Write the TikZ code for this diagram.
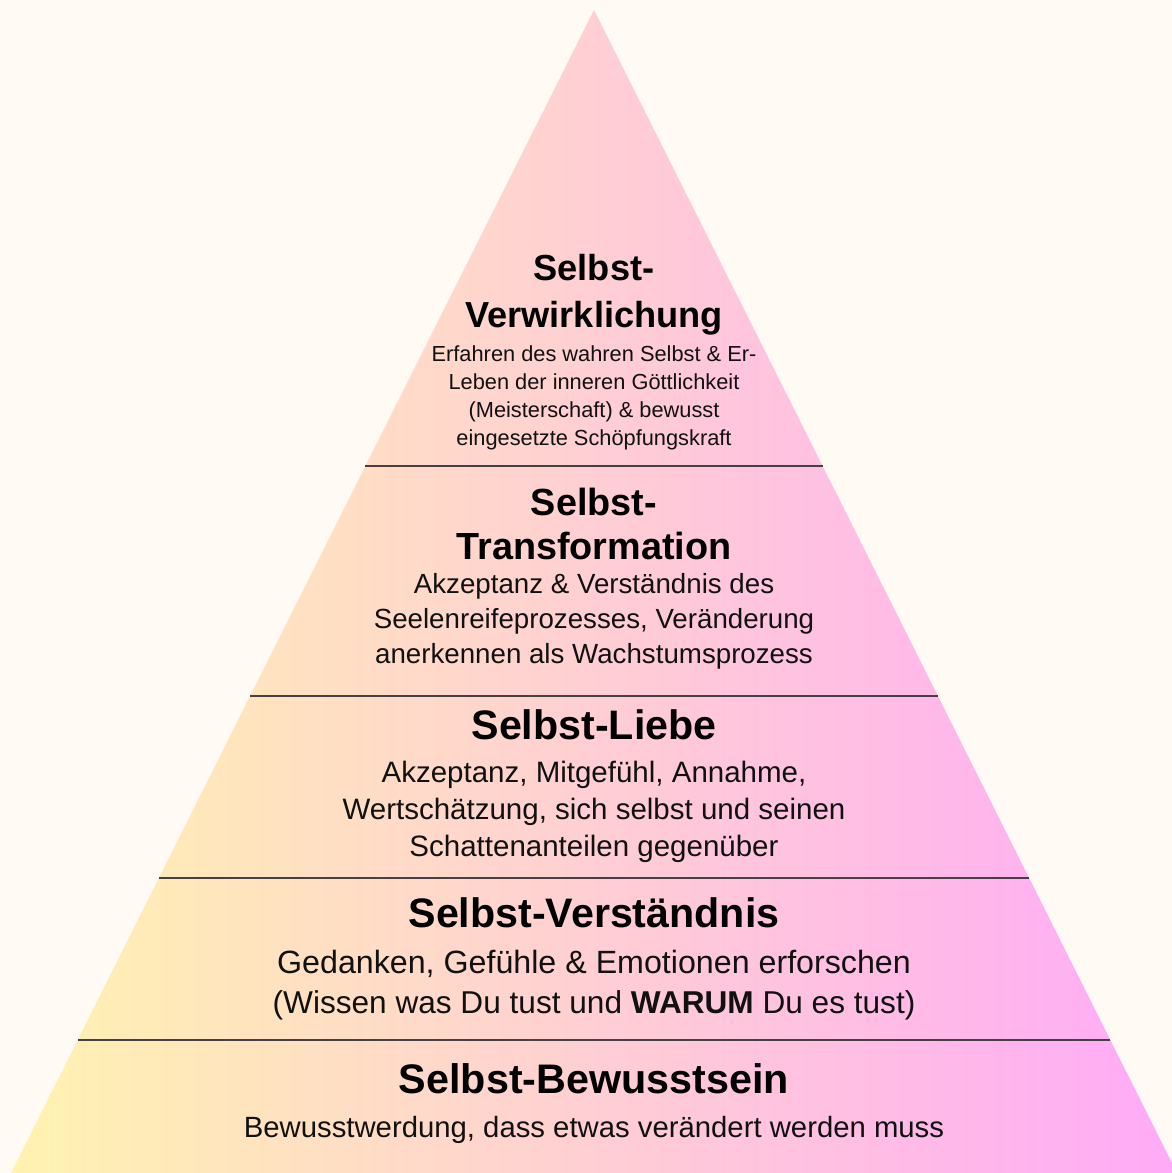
\documentclass[tikz,border=0pt]{standalone}
\usepackage{fontspec}
\setmainfont{Liberation Sans}
\usetikzlibrary{calc}
\definecolor{bgcol}{HTML}{FFFAF4}
\definecolor{leftcol}{HTML}{FFF3B0}
\definecolor{rightcol}{HTML}{FFAAF7}
\definecolor{linegray}{HTML}{454045}
\definecolor{txt}{HTML}{111111}
\tikzset{
  ttl/.style={anchor=base, inner sep=0pt, text=black, font=\bfseries\fontsize{#1}{#1}\selectfont},
  bdy/.style={anchor=base, inner sep=0pt, text=txt, font=\fontsize{#1}{#1}\selectfont},
  sepline/.style={draw=linegray, line width=1.2pt}
}
\begin{document}
\begin{tikzpicture}[x=1pt,y=-1pt]
\useasboundingbox (0,0) rectangle (1172,1173);
\fill[bgcol] (0,0) rectangle (1172,1173);
\begin{scope}
\clip (0,0) rectangle (1172,1173);
\coordinate (A) at (594,10);
\coordinate (L) at (11,1173);
\coordinate (R) at (1177,1173);
\shade[left color=leftcol, right color=rightcol] (A) -- (L) -- (R) -- cycle;
\end{scope}
% separators
\coordinate (s1l) at ($(A)!0.3921!(L)$); \coordinate (s1r) at ($(A)!0.3921!(R)$);
\coordinate (s2l) at ($(A)!0.5899!(L)$); \coordinate (s2r) at ($(A)!0.5899!(R)$);
\coordinate (s3l) at ($(A)!0.7463!(L)$); \coordinate (s3r) at ($(A)!0.7463!(R)$);
\coordinate (s4l) at ($(A)!0.8856!(L)$); \coordinate (s4r) at ($(A)!0.8856!(R)$);
\draw[sepline] (s1l) -- (s1r);
\draw[sepline] (s2l) -- (s2r);
\draw[sepline] (s3l) -- (s3r);
\draw[sepline] (s4l) -- (s4r);
% tier 1
\node[ttl=36.2] (t1a) at (594,280) {Selbst-};
\node[ttl=36.2] (t1b) at (594,327) {Verwirklichung};
\node[bdy=21.8] (b1a) at (594,361) {Erfahren des wahren Selbst \& Er-};
\node[bdy=21.8] (b1b) at (594,389) {Leben der inneren Göttlichkeit};
\node[bdy=21.8] (b1c) at (594,417) {(Meisterschaft) \& bewusst};
\node[bdy=21.8] (b1d) at (594,445) {eingesetzte Schöpfungskraft};
% tier 2
\node[ttl=37.8] (t2a) at (594,515) {Selbst-};
\node[ttl=37.8] (t2b) at (594,559) {Transformation};
\node[bdy=27.7] (b2a) at (594,593) {Akzeptanz \& Verständnis des};
\node[bdy=27.7] (b2b) at (594,628) {Seelenreifeprozesses, Veränderung};
\node[bdy=27.7] (b2c) at (594,663) {anerkennen als Wachstumsprozess};
% tier 3
\node[ttl=41.2] (t3a) at (594,739) {Selbst-Liebe};
\node[bdy=29.5] (b3a) at (594,782) {Akzeptanz, Mitgefühl, Annahme,};
\node[bdy=29.5] (b3b) at (594,819) {Wertschätzung, sich selbst und seinen};
\node[bdy=29.5] (b3c) at (594,856) {Schattenanteilen gegenüber};
% tier 4
\node[ttl=41.2] (t4a) at (594,927) {Selbst-Verständnis};
\node[bdy=32.2] (b4a) at (594,973) {Gedanken, Gefühle \& Emotionen erforschen};
\node[bdy=31.6] (b4b) at (594,1013) {(Wissen was Du tust und \textbf{WARUM} Du es tust)};
% tier 5
\node[ttl=41.3] (t5a) at (594,1093) {Selbst-Bewusstsein};
\node[bdy=29.3] (b5a) at (594,1137) {Bewusstwerdung, dass etwas verändert werden muss};
\end{tikzpicture}
\end{document}
